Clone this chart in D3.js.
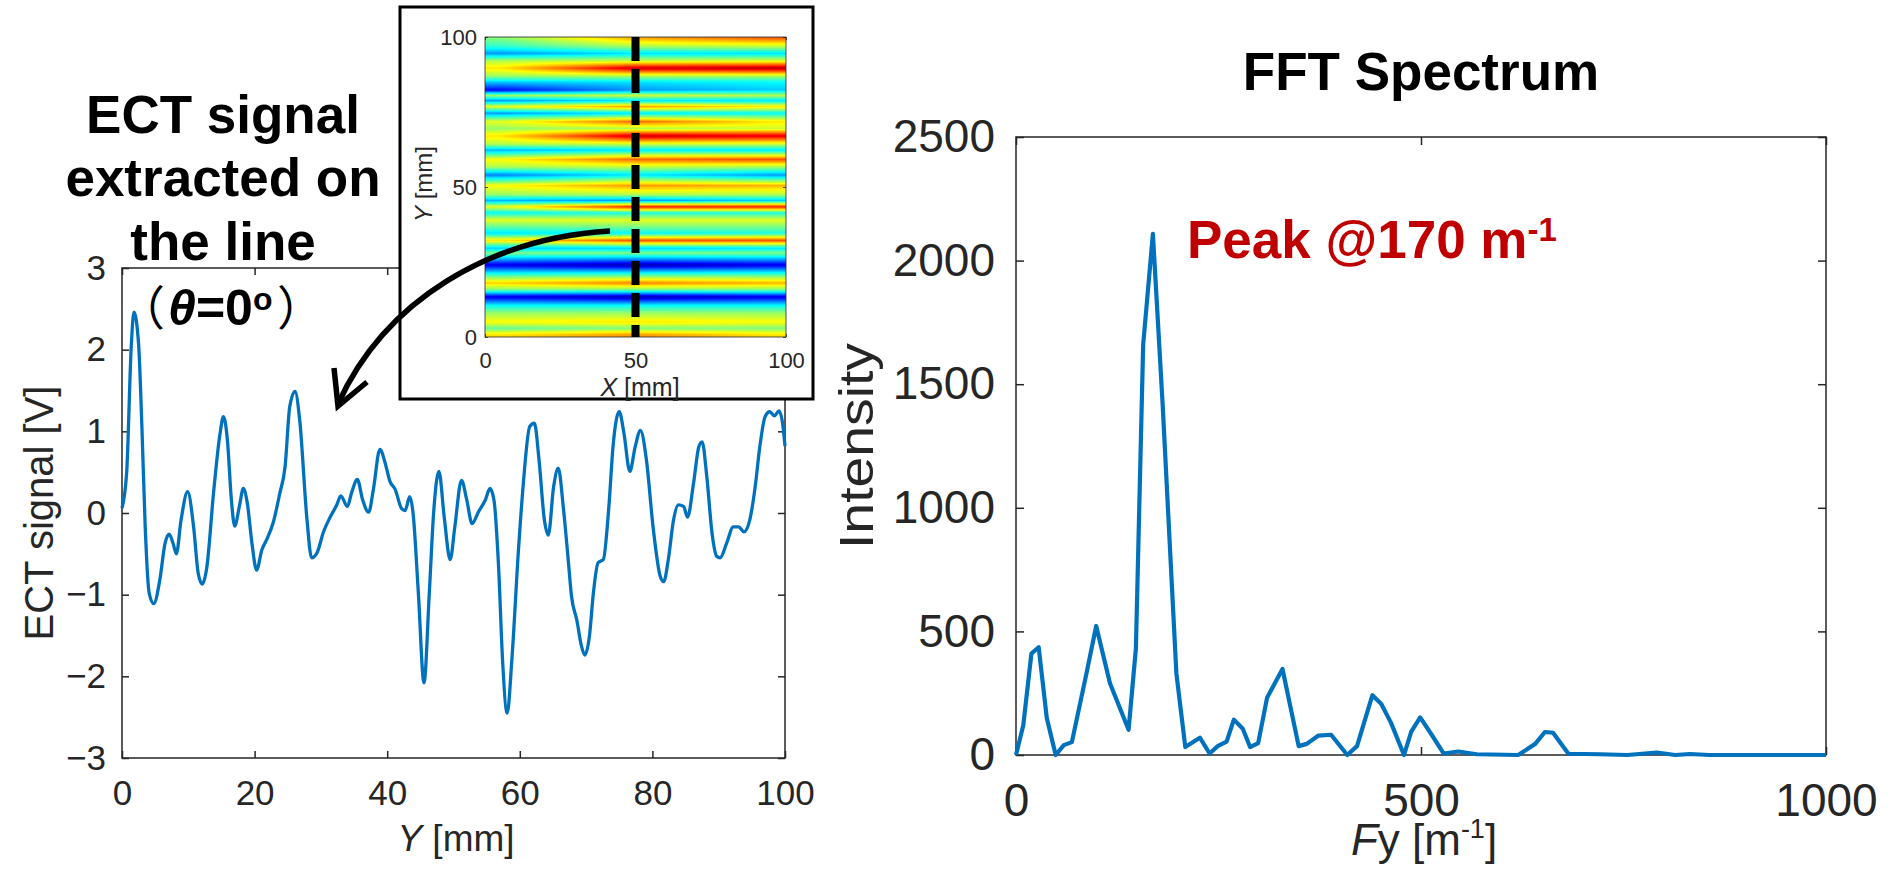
<!DOCTYPE html>
<html>
<head>
<meta charset="utf-8">
<script src="https://cdn.jsdelivr.net/npm/d3@7"></script>
<style>
  body { margin: 0; background: #fff; }
  svg { display: block; }
</style>
</head>
<body>
<svg id="fig" width="1893" height="869"></svg>
<script>
// ECT signal along the line X = 50 mm : [Y mm, signal V]
const ectSignal = [
  [0,0.06],[0.7,0.49],[1.4,2.05],[1.8,2.46],[2.5,2.07],[3.0,1.06],[3.5,-0.17],[4.1,-0.98],
  [4.8,-1.11],[5.7,-0.82],[6.5,-0.37],[7.1,-0.26],[7.7,-0.37],[8.2,-0.50],[8.9,-0.09],[9.9,0.26],
  [10.8,-0.17],[11.5,-0.74],[12.1,-0.87],[12.8,-0.66],[13.8,0.24],[14.8,0.98],[15.3,1.18],[15.9,0.89],
  [16.5,0.16],[17.0,-0.16],[17.7,0.08],[18.3,0.30],[18.9,0.12],[19.6,-0.37],[20.3,-0.70],[21.1,-0.45],
  [21.8,-0.33],[22.8,-0.12],[23.8,0.24],[24.6,0.57],[25.3,1.30],[26.1,1.49],[26.8,1.14],[27.9,-0.08],
  [28.6,-0.55],[29.4,-0.49],[30.4,-0.23],[31.4,-0.05],[32.4,0.10],[33.0,0.21],[34.0,0.08],[34.6,0.24],
  [35.5,0.41],[36.3,0.16],[37.2,0.01],[37.9,0.28],[38.9,0.78],[39.7,0.61],[40.4,0.39],[41.2,0.29],
  [42.2,0.05],[42.7,0.03],[43.4,0.20],[43.9,0.0],[44.7,-0.98],[45.55,-2.08],[46.35,-0.98],[47.0,0.0],
  [47.8,0.51],[48.6,-0.05],[49.5,-0.57],[50.2,-0.17],[51.2,0.40],[52.0,0.16],[52.8,-0.13],[53.8,0.02],
  [54.8,0.16],[55.5,0.30],[56.1,0.16],[56.8,-0.66],[57.4,-1.80],[58.1,-2.45],[58.8,-1.80],[59.8,-0.45],
  [60.5,0.33],[61.5,1.06],[62.2,1.10],[62.9,0.65],[63.7,-0.08],[64.3,-0.27],[65.1,0.32],[65.8,0.55],
  [66.6,0.04],[67.3,-0.57],[67.8,-1.02],[68.6,-1.31],[69.3,-1.63],[69.8,-1.74],[70.5,-1.51],[71.1,-0.98],
  [71.8,-0.61],[72.6,-0.57],[73.4,0.04],[74.1,0.85],[75.0,1.24],[75.7,0.98],[76.6,0.51],[77.4,0.81],
  [78.2,1.01],[79.1,0.65],[80.1,-0.17],[81.2,-0.78],[81.7,-0.84],[82.4,-0.57],[83.2,-0.08],[83.9,0.10],
  [84.7,0.08],[85.3,-0.05],[86.2,0.36],[87.0,0.81],[87.5,0.87],[88.2,0.45],[89.0,-0.25],[89.7,-0.53],
  [90.2,-0.55],[91.2,-0.37],[92.2,-0.17],[93.0,-0.17],[93.8,-0.23],[94.7,-0.08],[95.5,0.32],[96.2,0.81],
  [97.0,1.18],[97.7,1.24],[98.4,1.19],[99.1,1.25],[99.7,1.06],[100,0.82]
];

// FFT spectrum : [Fy m^-1, intensity]
const fftSpectrum = [
  [0,0],[9,120],[19,410],[28,436],[38,150],[49,0],[59,40],[69,52],[87,330],[99,522],[116,290],
  [139,102],[148,430],[157,1660],[169,2108],[181,1420],[198,330],[209,32],[227,70],[239,6],
  [249,36],[260,54],[269,143],[280,106],[289,32],[299,48],[310,232],[329,348],[349,36],[359,45],
  [373,78],[389,82],[409,0],[421,36],[440,242],[451,206],[463,130],[479,0],[488,95],[499,152],
  [514,78],[528,6],[546,14],[569,3],[620,0],[641,45],[653,93],[663,90],[682,5],[721,3],[755,0],
  [791,10],[814,0],[832,4],[856,0],[1000,0]
];

// inset map: stripes along Y, value (-1..1, jet) at X = 5, 50, 95 mm
const mapColumnsX = [5, 50, 95];
const mapRows = [
  [0.8,0.30,0.45,0.30],[2.9,-0.05,0.0,0.0],[5,0.25,0.30,0.25],[8,0.05,0.05,0.05],
  [10.5,-0.25,-0.25,-0.25],[13.4,-0.80,-0.90,-0.80],[15.8,0.0,0.0,0.0],[18,0.35,0.50,0.40],
  [20.5,-0.10,-0.05,-0.05],[24,-0.80,-0.90,-0.80],[28,0.0,0.0,0.0],[29.6,-0.35,-0.35,-0.30],
  [32.2,0.30,0.60,0.60],[34.6,-0.30,-0.25,-0.20],[36.8,-0.05,0.0,0.0],[39,0.20,0.20,0.20],
  [41.4,-0.25,-0.20,-0.20],[43.4,0.20,0.70,0.70],[45.5,-0.40,-0.45,-0.35],[47.5,0.05,0.10,0.10],
  [50.5,0.25,0.45,0.40],[54,-0.50,-0.30,-0.45],[56.8,0.10,0.15,0.10],[59.2,0.25,0.55,0.60],
  [62.3,-0.40,-0.30,-0.30],[64.3,0.10,0.15,0.15],[67,0.30,0.85,0.80],[69.5,0.05,0.10,0.15],
  [71.8,0.20,0.55,0.30],[74.6,-0.45,-0.30,-0.25],[76.8,0.20,0.45,0.30],[78.8,-0.45,-0.30,-0.30],
  [80.5,0.05,0.15,0.10],[82.3,-0.75,-0.45,-0.35],[85,-0.35,-0.30,-0.25],[87,0.05,0.10,0.10],
  [89.6,0.30,0.85,0.90],[92,0.10,0.15,0.20],[94.5,-0.45,-0.30,-0.30],[97,-0.15,0.10,0.15],
  [99.5,0.0,0.40,0.55]
];

const ectXTicks = [0, 20, 40, 60, 80, 100];
const ectYTicks = [-3, -2, -1, 0, 1, 2, 3];
const fftXTicks = [0, 500, 1000];
const fftYTicks = [0, 500, 1000, 1500, 2000, 2500];
const mapTicks = [0, 50, 100];

const FONT = '"Liberation Sans", Arial, sans-serif';
const CJK = '"Noto Sans CJK JP", "Noto Sans CJK SC", sans-serif';
const AX = "#262626";
const BLUE = "#0072BD";

const svg = d3.select("#fig").attr("font-family", FONT);

const xEct = d3.scaleLinear([0, 100], [122, 785]);
const yEct = d3.scaleLinear([-3, 3], [758, 268]);
const xFft = d3.scaleLinear([0, 1000], [1016, 1826]);
const yFft = d3.scaleLinear([0, 2500], [755, 137]);
const xMap = d3.scaleLinear([0, 100], [485, 786]);
const yMap = d3.scaleLinear([0, 100], [337, 37]);

// box with inward ticks on all four sides, labels bottom/left
function drawAxes(x, y, xt, yt, fs, padX, padY, tick, sw) {
  const g = svg.append("g");
  const [x0, x1] = x.range(), [y0, y1] = y.range();
  const fmt = d3.format("d");
  g.append("g").attr("transform", `translate(0,${y0})`)
    .call(d3.axisBottom(x).tickValues(xt).tickSize(-tick).tickSizeOuter(0).tickPadding(padX).tickFormat(fmt));
  g.append("g").attr("transform", `translate(0,${y1})`)
    .call(d3.axisTop(x).tickValues(xt).tickSize(-tick).tickSizeOuter(0).tickFormat(""));
  g.append("g").attr("transform", `translate(${x0},0)`)
    .call(d3.axisLeft(y).tickValues(yt).tickSize(-tick).tickSizeOuter(0).tickPadding(padY).tickFormat(fmt));
  g.append("g").attr("transform", `translate(${x1},0)`)
    .call(d3.axisRight(y).tickValues(yt).tickSize(-tick).tickSizeOuter(0).tickFormat(""));
  g.selectAll(".domain").remove();
  g.selectAll(".tick line").attr("stroke", AX).attr("stroke-width", sw);
  g.selectAll(".tick text").attr("font-size", fs).attr("fill", AX).attr("font-family", FONT);
  g.append("rect").attr("x", x0).attr("y", y1).attr("width", x1 - x0).attr("height", y0 - y1)
    .attr("fill", "none").attr("stroke", AX).attr("stroke-width", sw);
  return g;
}

// ---------- left: ECT signal ----------
drawAxes(xEct, yEct, ectXTicks, ectYTicks, 35, 22, 16, 7, 1.5);

svg.append("path")
  .datum(ectSignal)
  .attr("fill", "none")
  .attr("stroke", BLUE)
  .attr("stroke-width", 3.3)
  .attr("stroke-linejoin", "round")
  .attr("d", d3.line().x(d => xEct(d[0])).y(d => yEct(d[1])).curve(d3.curveMonotoneX));

svg.append("text")
  .attr("transform", "translate(53,513) rotate(-90)")
  .attr("text-anchor", "middle").attr("font-size", 40).attr("fill", AX)
  .text("ECT signal [V]");

const yl = svg.append("text").attr("x", 456).attr("y", 851)
  .attr("text-anchor", "middle").attr("font-size", 37).attr("fill", AX);
yl.append("tspan").attr("font-style", "italic").text("Y");
yl.append("tspan").text(" [mm]");

// title block
["ECT signal", "extracted on", "the line"].forEach((s, i) => {
  svg.append("text").attr("x", 223).attr("y", [133, 196, 260][i])
    .attr("text-anchor", "middle").attr("font-size", 53).attr("font-weight", "bold")
    .attr("fill", "#000").text(s);
});

const th = svg.append("text").attr("y", 325).attr("font-size", 50)
  .attr("font-weight", "bold").attr("fill", "#000");
th.append("tspan").attr("x", 118).attr("font-family", CJK).attr("font-weight", "normal")
  .attr("font-size", 47).text("（");
th.append("tspan").attr("x", 168).attr("font-style", "italic").text("θ");
th.append("tspan").text("=0");
th.append("tspan").attr("font-size", 32).attr("dy", -15).text("o");
th.append("tspan").attr("x", 277).attr("dy", 15).attr("font-family", CJK)
  .attr("font-weight", "normal").attr("font-size", 47).text("）");

// ---------- right: FFT spectrum ----------
drawAxes(xFft, yFft, fftXTicks, fftYTicks, 46, 28, 21, 8, 1.5);

svg.append("path")
  .datum(fftSpectrum)
  .attr("fill", "none")
  .attr("stroke", BLUE)
  .attr("stroke-width", 4.2)
  .attr("stroke-linejoin", "round")
  .attr("d", d3.line().x(d => xFft(d[0])).y(d => yFft(d[1])));

svg.append("text")
  .attr("transform", "translate(873,446) rotate(-90)")
  .attr("text-anchor", "middle").attr("font-size", 48).attr("fill", AX)
  .attr("textLength", 206).attr("lengthAdjust", "spacingAndGlyphs")
  .text("Intensity");

const fl = svg.append("text").attr("x", 1424).attr("y", 855)
  .attr("text-anchor", "middle").attr("font-size", 44).attr("fill", AX);
fl.append("tspan").attr("font-style", "italic").text("F");
fl.append("tspan").text("y [m");
fl.append("tspan").attr("font-size", 27).attr("dy", -17).text("-1");
fl.append("tspan").attr("dy", 17).text("]");

svg.append("text").attr("x", 1421).attr("y", 90)
  .attr("text-anchor", "middle").attr("font-size", 53).attr("font-weight", "bold")
  .attr("fill", "#000").text("FFT Spectrum");

const pk = svg.append("text").attr("x", 1187).attr("y", 258)
  .attr("font-size", 53).attr("font-weight", "bold").attr("fill", "#c00000");
pk.append("tspan").text("Peak @170 m");
pk.append("tspan").attr("font-size", 33).attr("dy", -17).text("-1");

// ---------- inset map ----------
svg.append("rect").attr("x", 400).attr("y", 7).attr("width", 413).attr("height", 392)
  .attr("fill", "#fff").attr("stroke", "#000").attr("stroke-width", 3);

const jet = d3.scaleLinear([-1, -0.75, -0.25, 0.25, 0.75, 1],
  ["#00007f", "#0000ff", "#00ffff", "#ffff00", "#ff0000", "#7f0000"]).clamp(true);
const rowsSorted = mapRows.slice().sort((a, b) => a[0] - b[0]);
const colScales = [1, 2, 3].map(j =>
  d3.scaleLinear(rowsSorted.map(r => r[0]), rowsSorted.map(r => r[j])).clamp(true));

const cw = Math.round(xMap(100) - xMap(0)), ch = Math.round(yMap(0) - yMap(100));
const canvas = document.createElement("canvas");
canvas.width = cw; canvas.height = ch;
const ctx = canvas.getContext("2d");
const img = ctx.createImageData(cw, ch);
for (let py = 0; py < ch; py++) {
  const Y = yMap.invert(yMap(100) + py + 0.5);
  const across = d3.scaleLinear(mapColumnsX, colScales.map(s => s(Y))).clamp(true);
  for (let px = 0; px < cw; px++) {
    const X = xMap.invert(xMap(0) + px + 0.5);
    const c = d3.rgb(jet(across(X)));
    const k = (py * cw + px) * 4;
    img.data[k] = c.r; img.data[k + 1] = c.g; img.data[k + 2] = c.b; img.data[k + 3] = 255;
  }
}
ctx.putImageData(img, 0, 0);
svg.append("image").attr("href", canvas.toDataURL())
  .attr("x", xMap(0)).attr("y", yMap(100)).attr("width", cw).attr("height", ch)
  .attr("preserveAspectRatio", "none");

drawAxes(xMap, yMap, mapTicks, mapTicks, 22, 15, 8, 3, 0.8);

svg.append("line")
  .attr("x1", xMap(50)).attr("x2", xMap(50)).attr("y1", yMap(100)).attr("y2", yMap(0))
  .attr("stroke", "#000").attr("stroke-width", 8).attr("stroke-dasharray", "24 8");

const mxl = svg.append("text").attr("x", 640).attr("y", 396)
  .attr("text-anchor", "middle").attr("font-size", 25).attr("fill", AX);
mxl.append("tspan").attr("font-style", "italic").text("X");
mxl.append("tspan").text(" [mm]");

const myl = svg.append("text").attr("transform", "translate(432,184) rotate(-90)")
  .attr("text-anchor", "middle").attr("font-size", 24).attr("fill", AX);
myl.append("tspan").attr("font-style", "italic").text("Y");
myl.append("tspan").text(" [mm]");

// curved arrow from the line to the signal plot
svg.append("path")
  .attr("d", "M610,231 C490,238 385,300 338,404")
  .attr("fill", "none").attr("stroke", "#000").attr("stroke-width", 5.5);
svg.append("path")
  .attr("d", "M334,368 L338,406 L367,382")
  .attr("fill", "none").attr("stroke", "#000").attr("stroke-width", 5.5)
  .attr("stroke-linejoin", "miter");
</script>
</body>
</html>
